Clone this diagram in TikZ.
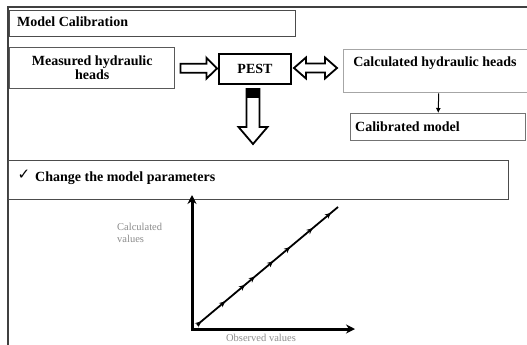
\documentclass[tikz,border=0pt]{standalone}
\usepackage{fontspec}
\setmainfont{Liberation Serif}
\newfontfamily\symfont{DejaVu Sans}
\usetikzlibrary{calc,arrows.meta,decorations.markings}
\begin{document}
\begin{tikzpicture}[x=1pt,y=-1pt,
  box/.style={draw, rectangle, inner sep=0pt, anchor=north west, line width=1.4pt},
  lbl/.style={font=\fontsize{14}{13}\selectfont\bfseries, inner sep=0pt},
  hollowline/.style={draw=black, line width=1.8pt, fill=white, line join=miter},
  axisline/.style={line width=3pt, line join=miter, {Stealth[length=9pt,width=9pt]}-{Stealth[length=9pt,width=9pt]}},
  smalllbl/.style={font=\fontsize{10.5}{12}\selectfont, text=black!45, inner sep=0pt},
  tick/.style={postaction={decorate}, decoration={markings,
     mark=at position 0.03 with {\arrow{Stealth[length=6pt,width=5.5pt]}},
     mark=at position 0.2 with {\arrow{Stealth[length=6pt,width=5.5pt]}},
     mark=at position 0.34 with {\arrow{Stealth[length=6pt,width=5.5pt]}},
     mark=at position 0.41 with {\arrow{Stealth[length=6pt,width=5.5pt]}},
     mark=at position 0.54 with {\arrow{Stealth[length=6pt,width=5.5pt]}},
     mark=at position 0.66 with {\arrow{Stealth[length=6pt,width=5.5pt]}},
     mark=at position 0.82 with {\arrow{Stealth[length=6pt,width=5.5pt]}},
     mark=at position 0.95 with {\arrow{Stealth[length=6pt,width=5.5pt]}}}},
]
\useasboundingbox (0,0) rectangle (527,345);
\fill[white] (0,0) rectangle (527,345);
% frame
\draw[line width=1.8pt, black!75] (8,346) -- (8,7) -- (528,7);

% title
\node[box, draw=black!70, minimum width=286pt, minimum height=26pt] (title) at (9,10) {};
\node[lbl, anchor=west] (titletxt) at (17,22) {Model Calibration};

% measured
\node[box, draw=black!65, minimum width=165pt, minimum height=41pt] (meas) at (9,47) {};
\node[lbl, align=center] (meastxt) at ($(meas.center)+(0,-0.5)$) {Measured hydraulic\\[1pt]heads};

% PEST
\node[box, draw=black, line width=2pt, minimum width=72pt, minimum height=30pt] (pest) at (218,53) {};
\node[lbl] (pesttxt) at (pest.center) {PEST};

% calculated
\node[box, draw=black!35, minimum width=190pt, minimum height=43pt] (calc) at (343,49) {};
\node[lbl] (calctxt) at (435,63) {Calculated hydraulic heads};

% calibrated
\node[box, draw=black!55, minimum width=175pt, minimum height=27pt] (calib) at (350,113) {};
\node[lbl, anchor=west] (calibtxt) at (355,127) {Calibrated model};

\draw[line width=1pt, -{Latex[length=5pt,width=5pt]}] (calc.south) -- (calib.north);

% hollow arrows
\draw[hollowline] ($(meas.east)+(5,-4.5)$) -- ++(26,0) -- ++(0,-6)
   -- ($(pest.west)+(-1,-0.5)$) -- ($(meas.east)+(31,10.5)$) -- ++(0,-6)
   -- ($(meas.east)+(5,4.5)$) -- cycle;
\begin{scope}[shift={(pest.east)}]
  \draw[hollowline] (2,-1) -- (14,-11.5) -- (14,-5.5) -- (33,-5.5) -- (33,-11.5)
    -- (45,-1) -- (33,9.5) -- (33,3.5) -- (14,3.5) -- (14,9.5) -- cycle;
\end{scope}
\begin{scope}[shift={(pest.south)}]
  \draw[hollowline] (-8.5,4) -- (4.5,4) -- (4.5,42) -- (12.5,42) -- (-2,59)
    -- (-16.5,42) -- (-8.5,42) -- cycle;
  \fill[draw=black, line width=1pt] (-8.5,4) rectangle (4.5,12);
\end{scope}

% change box
\node[box, draw=black!70, minimum width=500pt, minimum height=39pt] (change) at (8,160) {};
\node[font=\symfont\bfseries\fontsize{15}{15}\selectfont, inner sep=0pt] (chk) at (24,175) {✓};
\node[lbl, anchor=west] (changetxt) at (35,178) {Change the model parameters};

% graph
\coordinate (O) at (192,329);
\coordinate (ytop) at (192,195);
\coordinate (xend) at (355,329);
\draw[axisline] (ytop) -- (O) -- (xend);
\coordinate (d0) at (197,325);
\coordinate (d1) at (338,207);
\draw[line width=1.8pt, tick] (d0) -- (d1);
\node[smalllbl, anchor=west, align=left] (ylab) at (117,233) {Calculated\\values};
\node[smalllbl] (xlab) at (261,338) {Observed values};
\end{tikzpicture}
\end{document}
